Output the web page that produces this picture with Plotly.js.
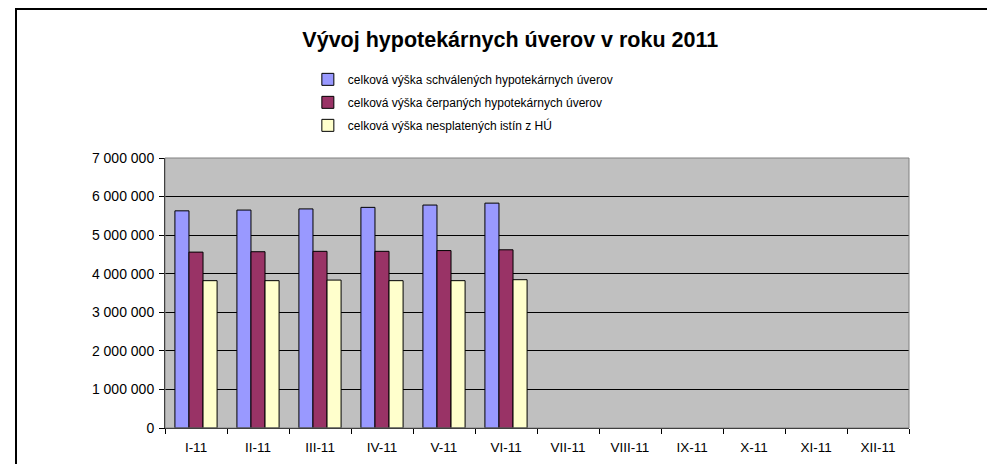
<!DOCTYPE html>
<html>
<head>
<meta charset="utf-8">
<script src="https://cdn.plot.ly/plotly-3.0.1.min.js"></script>
<style>
  body { margin: 0; background: #fff; }
  #chart { width: 987px; height: 464px; }
  #frame { position: absolute; left: 15px; top: 8px; width: 990px; height: 470px;
           border-left: 2px solid #000; border-top: 2px solid #000; pointer-events: none; }
</style>
</head>
<body>
<div id="chart"></div>
<div id="frame"></div>
<script>
// months of 2011
var months = ["I-11", "II-11", "III-11", "IV-11", "V-11", "VI-11",
              "VII-11", "VIII-11", "IX-11", "X-11", "XI-11", "XII-11"];

// values (only first half of the year filled)
var schvalene = [5630000, 5650000, 5680000, 5720000, 5780000, 5830000, null, null, null, null, null, null];
var cerpane = [4560000, 4570000, 4580000, 4580000, 4600000, 4620000, null, null, null, null, null, null];
var nesplatene = [3820000, 3820000, 3835000, 3820000, 3820000, 3845000, null, null, null, null, null, null];

var yTicks = [0, 1000000, 2000000, 3000000, 4000000, 5000000, 6000000, 7000000];

var trace1 = {
  x: months, y: schvalene, type: "bar", legendgroup: "a",
  name: "celková výška schválených hypotekárnych úverov",
  marker: { color: "#9999ff", line: { color: "#000", width: 1 } }
};
var trace2 = {
  x: months, y: cerpane, type: "bar", legendgroup: "b",
  name: "celková výška čerpaných hypotekárnych úverov",
  marker: { color: "#993366", line: { color: "#000", width: 1 } }
};
var trace3 = {
  x: months, y: nesplatene, type: "bar", legendgroup: "c",
  name: "celková výška nesplatených istín z HÚ",
  marker: { color: "#ffffcc", line: { color: "#000", width: 1 } }
};

var data = [trace1, trace2, trace3];

var layout = {
  width: 987,
  height: 464,
  margin: { l: 165, r: 78, t: 158, b: 36 },
  paper_bgcolor: "#fff",
  plot_bgcolor: "#c0c0c0",
  separators: ", ",
  font: { family: "Liberation Sans, Arial, sans-serif", size: 12, color: "#000" },
  title: {
    text: "<b>Vývoj hypotekárnych úverov v roku 2011</b>",
    font: { size: 21.5 },
    x: 0.517, xref: "container", xanchor: "center", y: 0.915, yanchor: "middle"
  },
  barmode: "group",
  bargap: 0.32,
  bargroupgap: 0,
  showlegend: true,
  legend: {
    x: 0.192, xanchor: "left",
    y: 1.345, yanchor: "top",
    bgcolor: "rgba(0,0,0,0)",
    font: { size: 12 },
    traceorder: "grouped",
    tracegroupgap: 4,
    itemwidth: 30
  },
  xaxis: {
    type: "category",
    tickson: "boundaries",
    ticks: "outside", ticklen: 5, tickcolor: "#000",
    ticklabelstandoff: 7,
    showline: true, linecolor: "#000", linewidth: 1,
    mirror: false,
    showgrid: false,
    tickfont: { size: 13.5 }
  },
  yaxis: {
    range: [0, 7000000],
    tickvals: yTicks,
    tickformat: ",d",
    ticks: "outside", ticklen: 5, tickcolor: "#000",
    ticklabelstandoff: 2,
    showline: true, linecolor: "#000", linewidth: 1,
    showgrid: true, gridcolor: "#000", gridwidth: 1,
    zeroline: false,
    tickfont: { size: 14 }
  },
  shapes: [
    { type: "rect", xref: "paper", yref: "paper", x0: 0, x1: 1, y0: 0, y1: 1,
      line: { color: "#808080", width: 1 }, layer: "above" }
  ]
};

Plotly.newPlot("chart", data, layout, { displayModeBar: false });
</script>
</body>
</html>
